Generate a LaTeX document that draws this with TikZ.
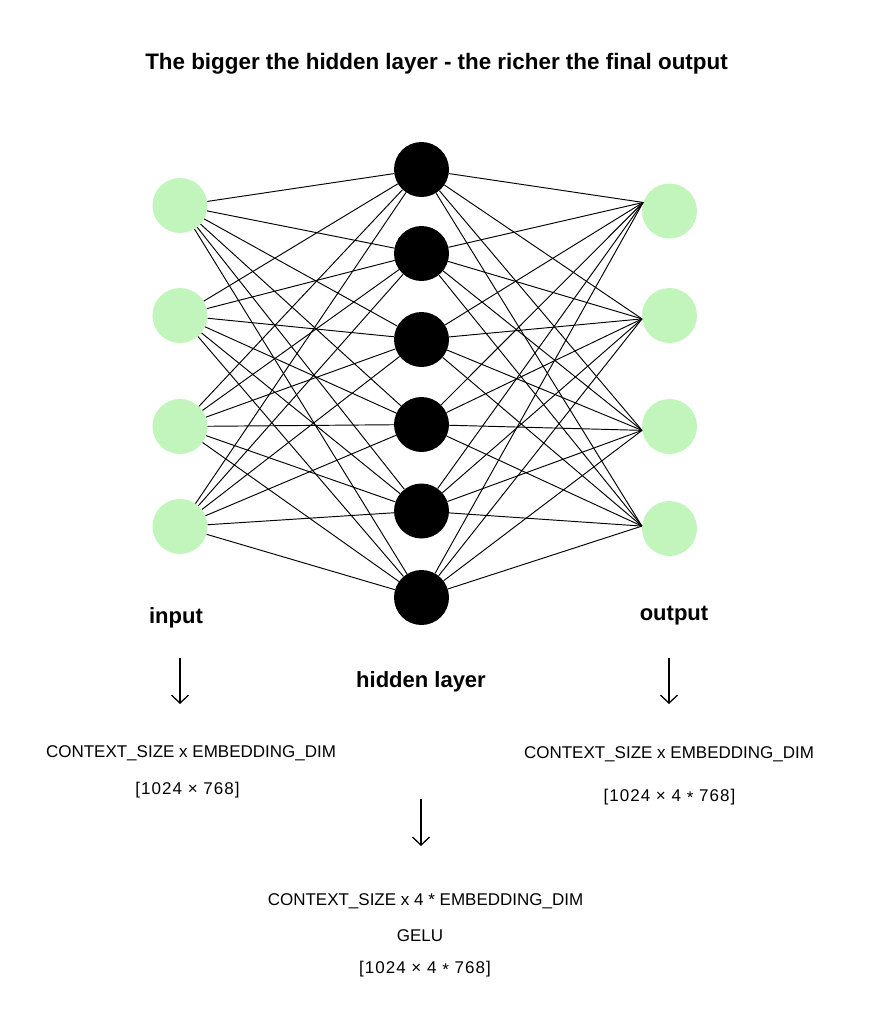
\documentclass[tikz,border=0pt]{standalone}
\usepackage{fontspec}
\setmainfont{Liberation Sans}
\newfontfamily\widefont[LetterSpace=6]{Liberation Sans}
\usetikzlibrary{arrows.meta}
\definecolor{nodegreen}{RGB}{194,245,188}
\newcommand{\midast}{\raisebox{-0.3ex}{*}}
\begin{document}
\begin{tikzpicture}[x=1pt,y=-1pt,
  inp/.style={circle,fill=nodegreen,minimum size=55pt,inner sep=0pt},
  hid/.style={circle,fill=black,minimum size=55pt,inner sep=0pt},
  edge/.style={line width=0.95pt,black},
  lbl/.style={font=\fontsize{22}{26}\selectfont\bfseries,anchor=base,inner sep=0pt},
  ttl/.style={font=\fontsize{22.4}{26}\selectfont\bfseries,anchor=base,inner sep=0pt},
  dim/.style={font=\fontsize{17}{20}\selectfont,anchor=base,inner sep=0pt},
  shp/.style={font=\fontsize{17}{20}\selectfont\widefont,anchor=base,inner sep=0pt},
  downarrow/.style={line width=1.3pt,-{Straight Barb[length=8pt,width=17pt,line width=1.3pt]}}
]
\useasboundingbox (0,0) rectangle (870,1018);

% title
\node[ttl] (title) at (436.5,69) {The bigger the hidden layer - the richer the final output};

% input layer
\node[inp] (i1) at (180,205.5) {};
\node[inp] (i2) at (180,315.5) {};
\node[inp] (i3) at (180,426.5) {};
\node[inp] (i4) at (180,526.5) {};

% hidden layer
\node[hid] (h1) at (421.5,169.5) {};
\node[hid] (h2) at (421.5,253.5) {};
\node[hid] (h3) at (421.5,339.5) {};
\node[hid] (h4) at (421.5,424.5) {};
\node[hid] (h5) at (421.5,511) {};
\node[hid] (h6) at (421.5,597.5) {};

% output layer
\node[inp] (o1) at (669.5,211) {};
\node[inp] (o2) at (669.5,315.5) {};
\node[inp] (o3) at (669.5,426.5) {};
\node[inp] (o4) at (669.5,528.5) {};

% connections
\foreach \i in {1,...,4}
  \foreach \j in {1,...,6}
    \draw[edge] (i\i) -- (h\j);
\foreach \k/\a in {1/162,2/187,3/188,4/175}
  \foreach \j in {1,...,6}
    \draw[edge] (h\j) -- (o\k.\a);

% labels
\node[lbl] (linput) at (176,623) {input};
\node[lbl] (loutput) at (674,620) {output};
\node[lbl] (lhidden) at (421,687) {hidden layer};

% arrows
\coordinate (a1s) at (180,658); \coordinate (a1e) at (180,704);
\coordinate (a2s) at (669,658); \coordinate (a2e) at (669,704);
\coordinate (a3s) at (421,799); \coordinate (a3e) at (421,846);
\draw[downarrow] (a1s) -- (a1e);
\draw[downarrow] (a2s) -- (a2e);
\draw[downarrow] (a3s) -- (a3e);

% dimension texts
\node[dim] (dinL) at (191,757) {CONTEXT\_SIZE x EMBEDDING\_DIM};
\node[shp] (shL) at (187.5,794) {[1024 × 768]};
\node[dim] (dinR) at (669,758) {CONTEXT\_SIZE x EMBEDDING\_DIM};
\node[shp] (shR) at (669.5,801) {[1024 × 4 \midast{} 768]};
\node[dim] (dinH) at (425.5,905) {CONTEXT\_SIZE x 4 * EMBEDDING\_DIM};
\node[dim] (gelu) at (420,941) {GELU};
\node[shp] (shH) at (425,973) {[1024 × 4 \midast{} 768]};
\end{tikzpicture}
\end{document}
